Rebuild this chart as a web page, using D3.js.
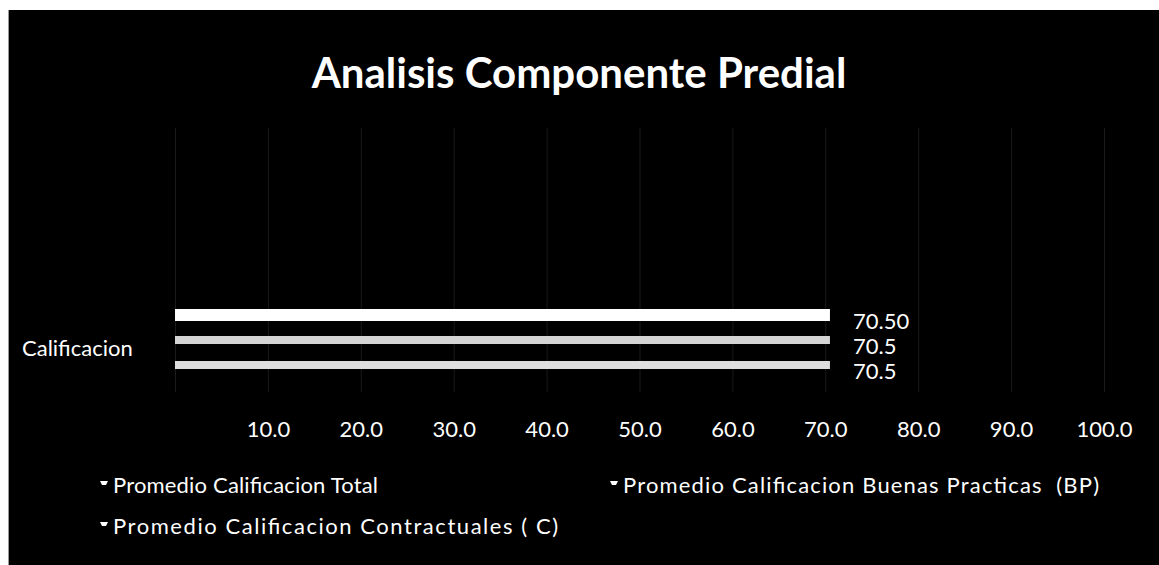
<!DOCTYPE html>
<html>
<head>
<meta charset="utf-8">
<title>Analisis Componente Predial</title>
<script src="https://cdnjs.cloudflare.com/ajax/libs/d3/7.8.5/d3.min.js"></script>
<style>
  body { margin: 0; background: #fff; }
  svg text { font-family: Lato, "Open Sans", sans-serif; fill: #fff; white-space: pre; }
</style>
</head>
<body>
<div id="chart"></div>
<script>
// data
var category = "Calificacion";
var series = ["Promedio Calificacion Total",
              "Promedio Calificacion Buenas Practicas  (BP)",
              "Promedio Calificacion Contractuales ( C)"];
var values = [70.5, 70.5, 70.5];
var valueLabels = ["70.50", "70.5", "70.5"];
var ticks = [10, 20, 30, 40, 50, 60, 70, 80, 90, 100];

var W = 1159, H = 565;
var colors = ["#ffffff", "#d4d4d4", "#dedede"];

var svg = d3.select("#chart").append("svg")
    .attr("width", W).attr("height", H);

// black chart area with the scanned frame
svg.append("rect").attr("x", 8).attr("y", 10)
    .attr("width", W - 8).attr("height", H - 10)
    .attr("fill", "#000");
svg.append("line").attr("x1", 8.5).attr("x2", 8.5)
    .attr("y1", 10).attr("y2", H)
    .attr("stroke", "#9a9a9a");

svg.append("text")
    .attr("x", 579).attr("y", 88)
    .attr("text-anchor", "middle")
    .style("font-size", "42px").style("font-weight", "bold")
    .text("Analisis Componente Predial");

var x = d3.scaleLinear().domain([0, 100]).range([175, 1104]);
var y = d3.scalePoint().domain(series).range([302.5, 377.5]).padding(0.5);

// faint gridlines
svg.append("g").selectAll("line")
    .data([0].concat(ticks))
    .enter().append("line")
    .attr("x1", d => x(d) + 0.5).attr("x2", d => x(d) + 0.5)
    .attr("y1", 128).attr("y2", 392)
    .attr("stroke", "#1a1a1a");

// x axis labels only
var ax = svg.append("g")
    .attr("transform", "translate(0,418)")
    .call(d3.axisBottom(x).tickValues(ticks).tickFormat(d3.format(".1f")).tickSize(0));
ax.select(".domain").remove();
ax.selectAll("text")
    .attr("fill", "#fff")
    .style("font-family", "Lato, 'Open Sans', sans-serif")
    .style("font-size", "22px");

// bars
svg.append("g").selectAll("rect")
    .data(series)
    .enter().append("rect")
    .attr("x", x(0))
    .attr("y", (d, i) => y(d) - (i === 0 ? 6 : 4))
    .attr("width", (d, i) => x(values[i]) - x(0))
    .attr("height", (d, i) => i === 0 ? 12 : 8)
    .attr("fill", (d, i) => colors[i]);

// value labels
svg.append("g").selectAll("text")
    .data(series)
    .enter().append("text")
    .attr("x", (d, i) => x(values[i]) + 23)
    .attr("y", d => y(d) + 14)
    .style("font-size", "22px")
    .text((d, i) => valueLabels[i]);

// category label
svg.append("text")
    .attr("x", 22).attr("y", 356)
    .style("font-size", "22px")
    .text(category);

// legend
var legPos = [[104, 485], [614, 485], [104, 526]];
var legWidth = [265, 476, 445];
var leg = svg.append("g").selectAll("g")
    .data(series)
    .enter().append("g")
    .attr("transform", (d, i) => "translate(" + legPos[i][0] + "," + legPos[i][1] + ")");
leg.append("path")
    .attr("d", "M-4,-4 L4,-4 L2,0 L-2,0 Z")
    .attr("fill", "#fff");
leg.append("text")
    .attr("x", 9).attr("y", 8)
    .attr("textLength", (d, i) => legWidth[i])
    .attr("lengthAdjust", "spacing")
    .style("font-size", "22px")
    .text(d => d);
</script>
</body>
</html>
